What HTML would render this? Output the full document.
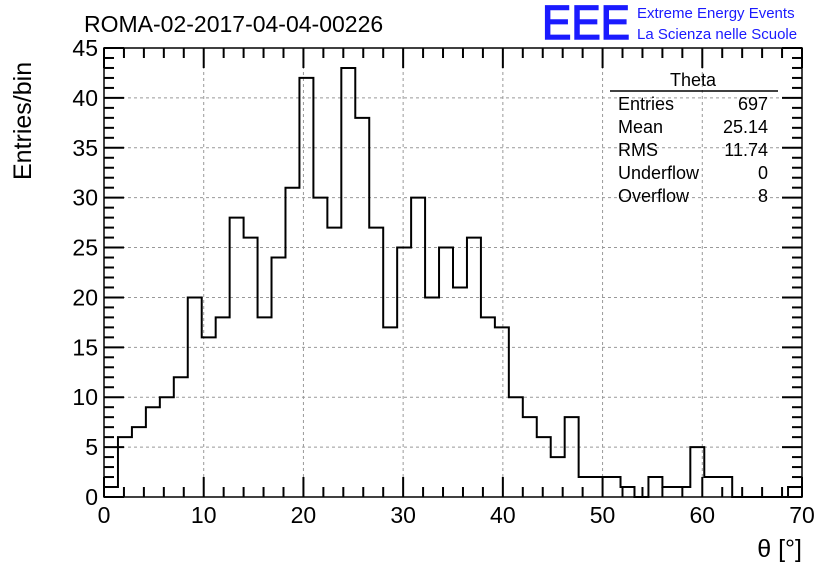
<!DOCTYPE html>
<html><head><meta charset="utf-8"><style>
body{margin:0;background:#fff;}
svg text{font-family:"Liberation Sans",sans-serif;}
</style></head><body>
<svg id="chart" width="836" height="572" xmlns="http://www.w3.org/2000/svg">
<rect width="836" height="572" fill="#fff"/>
<g id="grid"></g>
<g id="ticks"></g>
<path id="hist" fill="none" stroke="#000" stroke-width="2"/>
<rect x="104" y="48" width="698" height="449" fill="none" stroke="#000" stroke-width="1.5"/>
<g id="labels" font-size="23"></g>
<text x="84" y="32" font-size="23">ROMA-02-2017-04-04-00226</text>
<text x="542" y="39" font-size="48" fill="#1a1aff" stroke="#1a1aff" stroke-width="1.5" textLength="88" lengthAdjust="spacingAndGlyphs">EEE</text>
<text x="637" y="18" font-size="15" fill="#1a1aff">Extreme Energy Events</text>
<text x="637" y="39" font-size="15" fill="#1a1aff">La Scienza nelle Scuole</text>
<text transform="translate(31,180) rotate(-90)" font-size="25">Entries/bin</text>
<text x="802" y="557" font-size="25" text-anchor="end">θ [°]</text>
<g font-size="18">
<text x="693" y="86" text-anchor="middle">Theta</text>
<line x1="610" y1="91" x2="778" y2="91" stroke="#000" stroke-width="1.5"/>
<text x="618" y="110">Entries</text><text x="768" y="110" text-anchor="end">697</text>
<text x="618" y="133">Mean</text><text x="768" y="133" text-anchor="end">25.14</text>
<text x="618" y="156">RMS</text><text x="768" y="156" text-anchor="end">11.74</text>
<text x="618" y="179">Underflow</text><text x="768" y="179" text-anchor="end">0</text>
<text x="618" y="202">Overflow</text><text x="768" y="202" text-anchor="end">8</text>
</g>
</svg>
<script>
const counts=[1,6,7,9,10,12,20,16,18,28,26,18,24,31,42,30,27,43,38,27,17,25,30,20,25,21,26,18,17,10,8,6,4,8,2,2,2,1,0,2,1,1,5,2,2,0,0,0,0,1];
const binWidth=1.4;
const xTicks=[0,10,20,30,40,50,60,70];
const yTicks=[0,5,10,15,20,25,30,35,40,45];
const X0=104,X1=802,Y0=497,Y1=48,XMAX=70,YMAX=45;
const sx=v=>X0+(X1-X0)*v/XMAX, sy=v=>Y0-(Y0-Y1)*v/YMAX;
const NS="http://www.w3.org/2000/svg";
function mk(tag,attrs,parent){const e=document.createElementNS(NS,tag);for(const k in attrs)e.setAttribute(k,attrs[k]);parent.appendChild(e);return e;}
const grid=document.getElementById('grid'),ticks=document.getElementById('ticks'),labels=document.getElementById('labels');
xTicks.forEach(t=>{
  const x=sx(t);
  const g=mk('line',{x1:x,x2:x,y1:Y1,y2:Y0,stroke:'#999','stroke-dasharray':'3,3','stroke-width':1},grid);
  
  
  const l=mk('text',{x:x,y:523,'text-anchor':'middle'},labels);
  
  
  l.textContent=t;
});
yTicks.forEach(t=>{
  const y=sy(t);
  const g=mk('line',{x1:X0,x2:X1,y1:y,y2:y,stroke:'#999','stroke-dasharray':'3,3','stroke-width':1},grid);
  
  
  const l=mk('text',{x:98,y:y+8,'text-anchor':'end'},labels);
  
  
  l.textContent=t;
});
for(let v=0;v<=XMAX;v+=2){const x=sx(v),L=(v%10===0)?20:10;
  mk('line',{x1:x,x2:x,y1:Y0,y2:Y0-L,stroke:'#000','stroke-width':2},ticks);
  mk('line',{x1:x,x2:x,y1:Y1,y2:Y1+L,stroke:'#000','stroke-width':2},ticks);}
for(let v=0;v<=YMAX;v+=1){const y=sy(v),L=(v%5===0)?20:10;
  mk('line',{x1:X0,x2:X0+L,y1:y,y2:y,stroke:'#000','stroke-width':2},ticks);
  mk('line',{x1:X1,x2:X1-L,y1:y,y2:y,stroke:'#000','stroke-width':2},ticks);}
let d='M'+sx(0)+','+sy(0);
counts.forEach((c,i)=>{d+=' L'+sx(i*binWidth)+','+sy(c)+' L'+sx((i+1)*binWidth)+','+sy(c);});
d+=' L'+sx(counts.length*binWidth)+','+sy(0);
document.getElementById('hist').setAttribute('d',d);
</script>
</body></html>
